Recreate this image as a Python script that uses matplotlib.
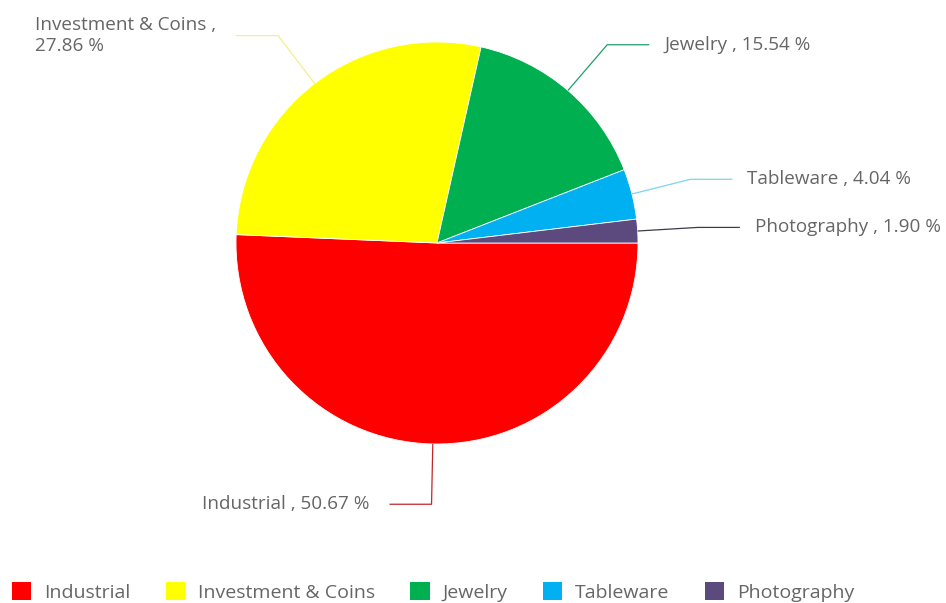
import numpy as np
import matplotlib
matplotlib.use("Agg")
import matplotlib.pyplot as plt
from matplotlib.patches import Patch

plt.rcParams['font.family'] = ['Open Sans', 'DejaVu Sans']

# silver demand by end use, %
categories = ['Industrial', 'Investment & Coins', 'Jewelry', 'Tableware', 'Photography']
shares = [50.67, 27.86, 15.54, 4.04, 1.90]
colors = ['#FF0000', '#FFFF00', '#00B050', '#00B0F0', '#5C4A7E']
line_colors = ['#C0262B', '#F2F08A', '#1F9E6A', '#7FD3F2', '#3E3A4A']

W, H = 946, 603
fig = plt.figure(figsize=(W / 100, H / 100), dpi=100)
ax = fig.add_axes([0, 0, 1, 1])

cx, cy, R = 437, H - 243, 201
wedges, _ = ax.pie(shares, colors=colors, startangle=0, counterclock=False,
                   center=(cx, cy), radius=R,
                   wedgeprops=dict(edgecolor='white', linewidth=0.6))
ax.set_xlim(0, W)
ax.set_ylim(0, H)
ax.set_aspect('equal')
ax.axis('off')

text_color = '#666666'
fs = 13.6
renderer = fig.canvas.get_renderer()
for w, name, val, lc in zip(wedges, categories, shares, line_colors):
    mid = np.deg2rad((w.theta1 + w.theta2) / 2)
    x0, y0 = cx + R * np.cos(mid), cy + R * np.sin(mid)
    x1, y1 = cx + 1.3 * R * np.cos(mid), cy + 1.3 * R * np.sin(mid)
    side = 1 if np.cos(mid) >= 0 else -1
    x2 = x1 + side * 42
    ax.plot([x0, x1, x2], [y0, y1, y1], color=lc, lw=0.9, solid_capstyle='butt')
    label = f"{name} , {val:.2f} %"
    if side > 0:
        ax.text(x2 + 15, y1, label, ha='left', va='center',
                fontsize=fs, color=text_color)
    else:
        t = ax.text(x2 - 20, y1, label, ha='right', va='center', ma='left',
                    fontsize=fs, color=text_color, linespacing=1.25)
        # wrap after the comma if the label runs off the left edge
        if t.get_window_extent(renderer).x0 < 0:
            t.set_text(f"{name} ,\n{val:.2f} %")

handles = [Patch(facecolor=c, edgecolor='none') for c in colors]
fig.legend(handles, categories, loc='center left',
           bbox_to_anchor=(12 / W, 1 - 592 / H), ncol=5, frameon=False,
           fontsize=14, handlelength=1.0, handleheight=1.0,
           handletextpad=0.67, columnspacing=1.8, borderpad=0,
           borderaxespad=0, labelcolor=text_color)

fig.savefig('out.png', dpi=100, facecolor='white')
